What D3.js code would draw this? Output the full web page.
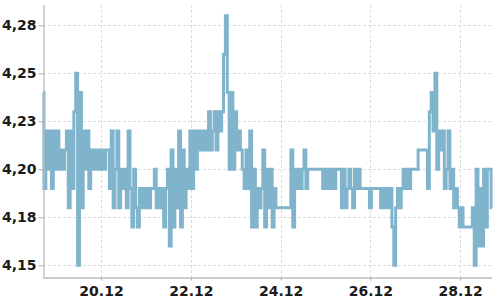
<!DOCTYPE html>
<html>
<head>
<meta charset="utf-8">
<script src="https://cdn.jsdelivr.net/npm/d3@7"></script>
<style>
  html, body { margin: 0; padding: 0; background: #fff; }
  svg { display: block; }
  .axis text { font-family: "DejaVu Sans", sans-serif; font-size: 14px; font-weight: bold; fill: #1a1a1a; }
</style>
</head>
<body>
<svg id="chart" width="500" height="300"></svg>
<script>
// ---- data ----
const startTime = "2015-12-18T17:00";   // first sample, hourly samples
const values = [
  4.24,4.19,4.22,4.20,4.22,4.19,4.22,4.20,4.22,4.20,
  4.21,4.20,4.21,4.22,4.18,4.22,4.19,4.23,4.25,4.15,
  4.24,4.18,4.22,4.20,4.22,4.19,4.21,4.20,4.21,4.20,
  4.21,4.20,4.21,4.20,4.21,4.21,4.19,4.22,4.18,4.20,
  4.22,4.18,4.20,4.19,4.20,4.18,4.22,4.19,4.17,4.20,
  4.18,4.17,4.19,4.18,4.19,4.18,4.19,4.18,4.19,4.19,
  4.20,4.18,4.19,4.18,4.19,4.17,4.19,4.20,4.16,4.21,
  4.17,4.20,4.18,4.22,4.17,4.21,4.18,4.20,4.19,4.22,
  4.19,4.22,4.20,4.22,4.21,4.22,4.21,4.22,4.21,4.23,
  4.21,4.22,4.23,4.21,4.23,4.22,4.23,4.26,4.28,4.24,
  4.20,4.24,4.20,4.23,4.21,4.22,4.21,4.20,4.19,4.21,
  4.19,4.22,4.17,4.20,4.17,4.19,4.18,4.19,4.21,4.17,
  4.20,4.18,4.20,4.17,4.19,4.18,4.18,4.18,4.18,4.18,
  4.18,4.18,4.18,4.21,4.17,4.20,4.19,4.20,4.19,4.20,
  4.21,4.19,4.20,4.20,4.20,4.20,4.20,4.20,4.20,4.20,
  4.19,4.20,4.19,4.20,4.19,4.20,4.19,4.20,4.20,4.20,
  4.18,4.20,4.18,4.19,4.20,4.19,4.18,4.20,4.19,4.20,
  4.19,4.19,4.19,4.19,4.19,4.18,4.19,4.19,4.19,4.19,
  4.19,4.18,4.19,4.18,4.19,4.18,4.19,4.17,4.15,4.18,
  4.19,4.18,4.19,4.20,4.19,4.20,4.19,4.20,4.20,4.20,
  4.20,4.21,4.21,4.21,4.21,4.21,4.19,4.23,4.24,4.22,
  4.25,4.20,4.22,4.21,4.22,4.19,4.20,4.22,4.19,4.20,
  4.18,4.19,4.18,4.17,4.18,4.17,4.17,4.17,4.17,4.17,
  4.18,4.15,4.20,4.16,4.19,4.16,4.20,4.17,4.20,4.20,
  4.18
];
const yDomain = [4.1439, 4.2856];
const yTickValues = [4.15, 4.175, 4.2, 4.225, 4.25, 4.275];
const yTickLabels = ["4,15", "4,18", "4,20", "4,23", "4,25", "4,28"];
const xTickDates = ["2015-12-20", "2015-12-22", "2015-12-24", "2015-12-26", "2015-12-28"];
const xTickLabels = ["20.12", "22.12", "24.12", "26.12", "28.12"];

// ---- layout ----
const mLeft = 43, mRight = 492, mTop = 5, mBottom = 277;
const lineColor = "#7fb4cc";

const svg = d3.select("#chart");
const start = new Date(startTime);
const times = values.map((v, i) => d3.timeHour.offset(start, i));
const data = values.map((v, i) => ({ t: times[i], v }));

const x = d3.scaleTime().domain([times[0], times[times.length - 1]]).range([mLeft, mRight]);
const y = d3.scaleLinear().domain(yDomain).range([mBottom, mTop]);

const xTicks = xTickDates.map(s => new Date(s + "T00:00"));

// grid
const grid = svg.append("g").attr("stroke", "#dcdcdc").attr("stroke-width", 1).attr("stroke-dasharray", "3,2");
grid.selectAll("line.h").data(yTickValues).join("line")
  .attr("class", "h")
  .attr("x1", mLeft).attr("x2", mRight)
  .attr("y1", d => Math.round(y(d)) + 0.5).attr("y2", d => Math.round(y(d)) + 0.5);
grid.selectAll("line.v").data(xTicks).join("line")
  .attr("class", "v")
  .attr("x1", d => Math.round(x(d)) + 0.5).attr("x2", d => Math.round(x(d)) + 0.5)
  .attr("y1", mTop).attr("y2", mBottom);

// line
const line = d3.line().curve(d3.curveStep).x(d => x(d.t)).y(d => y(d.v));
svg.append("path").datum(data)
  .attr("fill", "none")
  .attr("stroke", lineColor)
  .attr("stroke-width", 3)
  .attr("d", line);

// axes
const yAxis = d3.axisLeft(y).tickValues(yTickValues)
  .tickFormat((d, i) => yTickLabels[i]).tickSize(5).tickPadding(2);
const gy = svg.append("g").attr("class", "axis").attr("transform", `translate(${mLeft + 0.5},0)`).call(yAxis);

const xAxis = d3.axisBottom(x).tickValues(xTicks)
  .tickFormat((d, i) => xTickLabels[i]).tickSize(3).tickPadding(6);
const gx = svg.append("g").attr("class", "axis").attr("transform", `translate(0,${mBottom + 0.5})`).call(xAxis);

[gx, gy].forEach(g => {
  g.select(".domain").attr("stroke", "#bbbbbb").attr("stroke-width", 1.3);
  g.selectAll(".tick line").attr("stroke", "#aaaaaa");
});
gx.select(".domain").attr("d", `M${mLeft},0.5H${mRight}`);
gy.select(".domain").attr("d", `M0.5,${mTop}V${mBottom}`);
</script>
</body>
</html>
